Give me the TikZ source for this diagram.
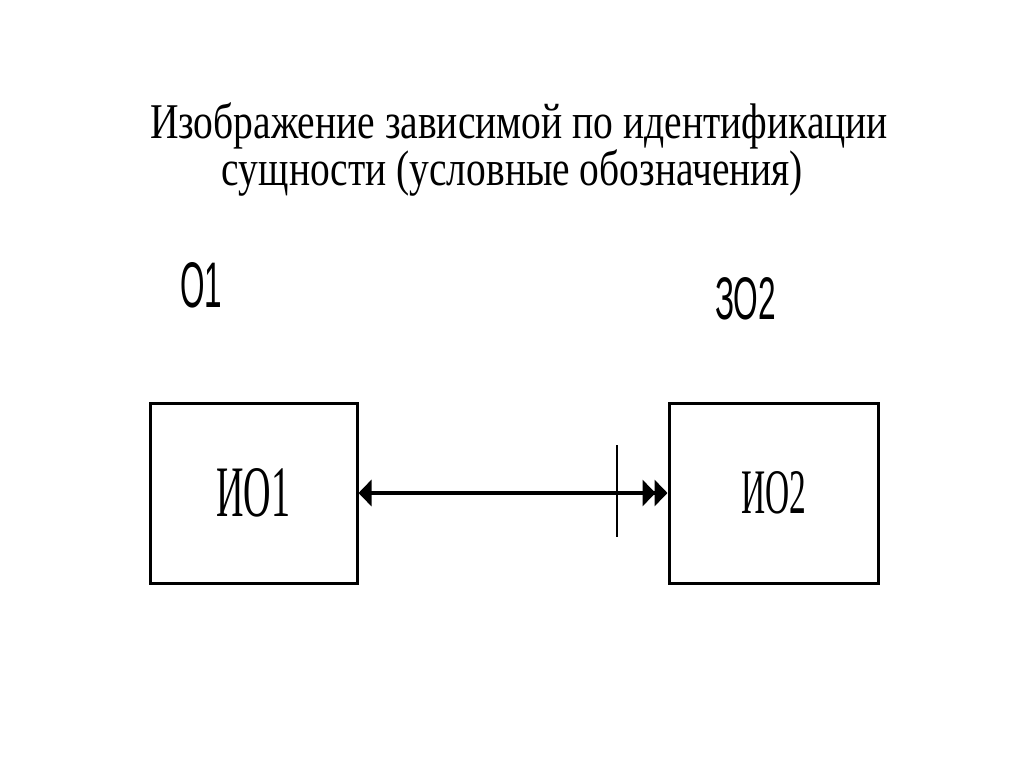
\documentclass[tikz,border=0pt]{standalone}
\usepackage{fontspec}
\setmainfont{Liberation Serif}
\newfontfamily\lsans{Liberation Sans}
\usetikzlibrary{arrows.meta}
\begin{document}
\begin{tikzpicture}[x=1pt,y=-1pt,
  ent/.style={draw,line width=3pt,rectangle,inner sep=0pt,minimum height=180pt},
  lbl/.style={inner sep=0pt,anchor=south west},
  rel/.style={line width=4.5pt,{Triangle[length=13pt,width=26pt]}-{Triangle[length=13pt,width=26pt,sep=-1pt]Triangle[length=13pt,width=26pt]}}]
\useasboundingbox[fill=white] (0,0) rectangle (1024,768);
\node[lbl,anchor=base] (t1) at (519,138) {\resizebox{738pt}{\height}{\fontsize{50}{60}\selectfont Изображение зависимой по идентификации}};
\node[lbl,anchor=base] (t2) at (512.5,185) {\resizebox{581pt}{\height}{\fontsize{50}{60}\selectfont сущности (условные обозначения)}};
\node[lbl] (o1) at (180,308) {\resizebox{42pt}{45pt}{\lsans О1}};
\node[lbl] (zo2) at (715,320) {\resizebox{61pt}{42pt}{\lsans ЗО2}};
\node[ent,minimum width=207pt] (b1) at (253.5,493) {\resizebox{74pt}{48pt}{ИО1}};
\node[ent,minimum width=209pt] (b2) at (773.5,493) {\resizebox{65pt}{42pt}{ИО2}};
\draw[rel] (b1.east) -- (b2.west);
\coordinate (k1) at (617,445);
\coordinate (k2) at (617,537);
\draw[line width=2pt] (k1) -- (k2);
\end{tikzpicture}
\end{document}
